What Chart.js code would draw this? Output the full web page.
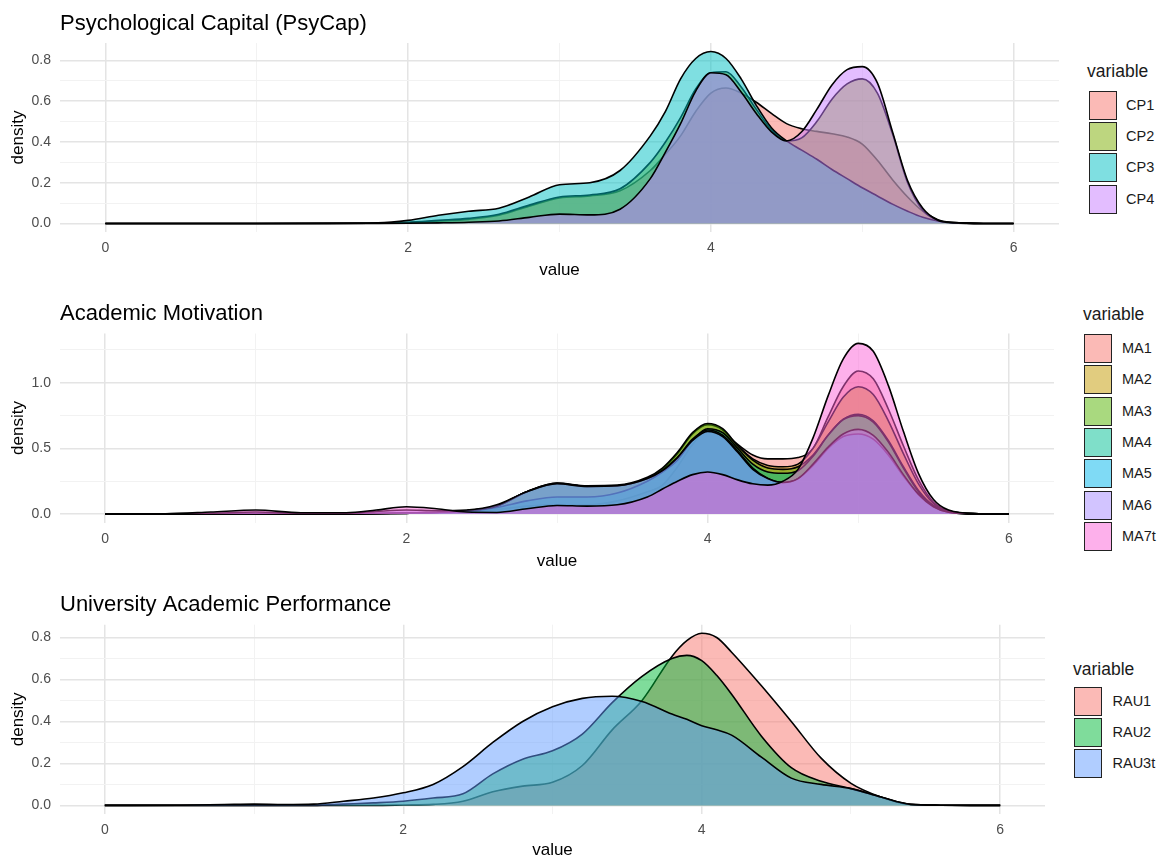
<!DOCTYPE html>
<html lang="en">
<head>
<meta charset="UTF-8">
<title>Density plots</title>
<script src="https://cdn.jsdelivr.net/npm/chart.js"></script>
<style>
  body { margin: 0; background: #fff; font-family: "Liberation Sans", Arial, sans-serif; }
  #wrap { position: relative; width: 1162px; height: 861px; overflow: hidden; }
  #wrap canvas { position: absolute; left: 0; }
  .legend { position: absolute; color: #1a1a1a; }
  .legend .ttl { position: absolute; font-size: 17.5px; line-height: 20px; white-space: nowrap; }
  .legend .key { position: absolute; left: 0; width: 28px; height: 29px; box-sizing: border-box; border: 1.5px solid #222; }
  .legend .lab { position: absolute; font-size: 14.5px; line-height: 29px; white-space: nowrap; }
</style>
</head>
<body>
<div id="wrap">
  <canvas id="cp" width="1059" height="285" style="top:0px"></canvas>
  <canvas id="ma" width="1054" height="285" style="top:290px"></canvas>
  <canvas id="rau" width="1045" height="281" style="top:580px"></canvas>
</div>
<script>
// Psychological Capital (PsyCap)
const cpNames = ['CP1', 'CP2', 'CP3', 'CP4'];
const cpColors = ['#F8766D', '#7CAE00', '#00BFC4', '#C77CFF'];
const cpX = [0, 1, 1.8, 2.0, 2.2, 2.4, 2.6, 2.8, 3.0, 3.2, 3.4, 3.6, 3.7, 3.8, 3.9, 4.0, 4.1, 4.2, 4.3, 4.4, 4.5, 4.6, 4.7, 4.8, 4.9, 5.0, 5.1, 5.2, 5.3, 5.4, 5.5, 5.6, 5.8, 6.0];
const cp1 = [0, 0, 0.001, 0.005, 0.012, 0.02, 0.04, 0.085, 0.125, 0.135, 0.16, 0.26, 0.34, 0.43, 0.55, 0.64, 0.665, 0.64, 0.595, 0.54, 0.49, 0.465, 0.452, 0.44, 0.425, 0.39, 0.31, 0.215, 0.13, 0.06, 0.018, 0.004, 0, 0];
const cp2 = [0, 0, 0.001, 0.005, 0.015, 0.025, 0.045, 0.09, 0.13, 0.14, 0.17, 0.30, 0.40, 0.52, 0.66, 0.74, 0.745, 0.67, 0.56, 0.46, 0.405, 0.42, 0.50, 0.61, 0.685, 0.71, 0.64, 0.44, 0.20, 0.065, 0.015, 0.003, 0, 0];
const cp3 = [0, 0, 0.003, 0.015, 0.04, 0.06, 0.075, 0.13, 0.19, 0.20, 0.26, 0.43, 0.55, 0.71, 0.81, 0.844, 0.81, 0.71, 0.58, 0.47, 0.405, 0.36, 0.315, 0.265, 0.22, 0.175, 0.135, 0.095, 0.06, 0.03, 0.012, 0.004, 0, 0];
const cp4 = [0, 0, 0, 0.001, 0.003, 0.006, 0.012, 0.03, 0.046, 0.042, 0.07, 0.22, 0.35, 0.49, 0.65, 0.74, 0.73, 0.645, 0.54, 0.45, 0.405, 0.45, 0.56, 0.68, 0.755, 0.77, 0.69, 0.45, 0.21, 0.075, 0.016, 0.004, 0, 0];

// Academic Motivation
const maNames = ['MA1', 'MA2', 'MA3', 'MA4', 'MA5', 'MA6', 'MA7t'];
const maColors = ['#F8766D', '#C49A00', '#53B400', '#00C094', '#00B6EB', '#A58AFF', '#FB61D7'];
const maX = [0, 0.4, 0.7, 1.0, 1.3, 1.6, 1.8, 2.0, 2.2, 2.4, 2.6, 2.8, 3.0, 3.2, 3.4, 3.6, 3.7, 3.8, 3.9, 4.0, 4.1, 4.2, 4.3, 4.4, 4.5, 4.6, 4.7, 4.8, 4.9, 5.0, 5.1, 5.2, 5.3, 5.4, 5.5, 5.6, 5.8, 6.0];
const ma1 = [0, 0, 0, 0, 0, 0, 0.002, 0.005, 0.01, 0.02, 0.035, 0.06, 0.07, 0.07, 0.10, 0.17, 0.22, 0.36, 0.53, 0.64, 0.62, 0.53, 0.45, 0.42, 0.42, 0.43, 0.50, 0.74, 0.97, 1.09, 1.03, 0.80, 0.52, 0.26, 0.09, 0.025, 0.002, 0];
const ma2 = [0, 0, 0, 0, 0, 0, 0.004, 0.008, 0.012, 0.025, 0.06, 0.17, 0.23, 0.21, 0.215, 0.27, 0.34, 0.46, 0.61, 0.68, 0.64, 0.52, 0.42, 0.37, 0.36, 0.38, 0.50, 0.70, 0.89, 0.97, 0.91, 0.71, 0.46, 0.23, 0.08, 0.02, 0.002, 0];
const ma3 = [0, 0, 0, 0, 0, 0, 0.004, 0.008, 0.012, 0.025, 0.06, 0.17, 0.235, 0.215, 0.22, 0.28, 0.35, 0.47, 0.62, 0.69, 0.65, 0.52, 0.41, 0.35, 0.34, 0.36, 0.45, 0.60, 0.72, 0.76, 0.71, 0.56, 0.36, 0.18, 0.065, 0.017, 0.001, 0];
const ma4 = [0, 0, 0, 0, 0, 0, 0.002, 0.005, 0.01, 0.02, 0.05, 0.10, 0.13, 0.13, 0.16, 0.25, 0.32, 0.41, 0.56, 0.65, 0.62, 0.50, 0.38, 0.32, 0.31, 0.33, 0.44, 0.60, 0.72, 0.75, 0.70, 0.55, 0.35, 0.17, 0.06, 0.015, 0.001, 0];
const ma5 = [0, 0, 0, 0, 0, 0, 0.004, 0.008, 0.012, 0.025, 0.06, 0.17, 0.235, 0.21, 0.215, 0.27, 0.33, 0.43, 0.57, 0.64, 0.60, 0.48, 0.35, 0.27, 0.24, 0.27, 0.37, 0.50, 0.59, 0.61, 0.57, 0.45, 0.29, 0.15, 0.055, 0.014, 0.001, 0];
const ma6 = [0, 0.001, 0.006, 0.015, 0.004, 0.006, 0.02, 0.03, 0.025, 0.03, 0.07, 0.17, 0.23, 0.21, 0.215, 0.27, 0.33, 0.43, 0.56, 0.63, 0.59, 0.47, 0.34, 0.27, 0.24, 0.27, 0.38, 0.51, 0.61, 0.645, 0.60, 0.47, 0.30, 0.15, 0.055, 0.014, 0.001, 0];
const ma7t = [0, 0.002, 0.015, 0.03, 0.01, 0.01, 0.03, 0.055, 0.04, 0.015, 0.012, 0.04, 0.065, 0.06, 0.07, 0.13, 0.19, 0.25, 0.30, 0.32, 0.30, 0.26, 0.23, 0.22, 0.25, 0.34, 0.58, 0.90, 1.18, 1.30, 1.24, 0.98, 0.63, 0.31, 0.11, 0.03, 0.002, 0];

// University Academic Performance
const rauNames = ['RAU1', 'RAU2', 'RAU3t'];
const rauColors = ['#F8766D', '#00BA38', '#619CFF'];
const rauX = [0, 0.5, 0.8, 1.0, 1.2, 1.4, 1.6, 1.8, 2.0, 2.2, 2.4, 2.6, 2.8, 3.0, 3.2, 3.4, 3.6, 3.8, 3.9, 4.0, 4.1, 4.2, 4.4, 4.6, 4.8, 5.0, 5.2, 5.4, 5.6, 5.8, 6.0];
const rau1 = [0, 0, 0, 0, 0, 0, 0, 0, 0.002, 0.005, 0.02, 0.065, 0.092, 0.11, 0.19, 0.36, 0.50, 0.71, 0.785, 0.82, 0.80, 0.73, 0.57, 0.40, 0.225, 0.105, 0.04, 0.004, 0.001, 0, 0];
const rau2 = [0, 0, 0, 0, 0, 0, 0.006, 0.012, 0.02, 0.035, 0.055, 0.15, 0.22, 0.26, 0.34, 0.49, 0.615, 0.70, 0.715, 0.69, 0.62, 0.53, 0.33, 0.18, 0.115, 0.08, 0.04, 0.005, 0.001, 0, 0];
const rau3t = [0, 0.001, 0.004, 0.006, 0.004, 0.006, 0.02, 0.035, 0.06, 0.10, 0.185, 0.30, 0.40, 0.47, 0.51, 0.52, 0.495, 0.435, 0.41, 0.38, 0.36, 0.335, 0.23, 0.13, 0.10, 0.08, 0.04, 0.005, 0.001, 0, 0];

Chart.defaults.font.family = '"Liberation Sans", Arial, sans-serif';
Chart.defaults.animation = false;

function withAlpha(hex, a) {
  const n = parseInt(hex.slice(1), 16);
  return `rgba(${n >> 16}, ${(n >> 8) & 255}, ${n & 255}, ${a})`;
}

function gridStyle(isMajor) {
  return {
    drawTicks: false,
    color: c => isMajor(c.tick.value) ? '#e4e4e4' : '#f2f2f2',
    lineWidth: c => isMajor(c.tick.value) ? 1.5 : 1
  };
}

function makePanel(id, p) {
  const chart = new Chart(document.getElementById(id), {
    type: 'line',
    data: {
      datasets: p.names.map((name, i) => ({
        label: name,
        data: p.x.map((x, k) => ({ x: x, y: p.series[i][k] })),
        backgroundColor: withAlpha(p.colors[i], 0.5),
        borderColor: '#000',
        borderWidth: 1.6,
        fill: 'origin',
        pointRadius: 0,
        cubicInterpolationMode: 'monotone',
        order: p.names.length - i   // later groups drawn on top
      }))
    },
    options: {
      responsive: false,
      devicePixelRatio: 1,
      layout: { padding: 0 },
      plugins: {
        legend: { display: false },
        tooltip: { enabled: false },
        title: {
          display: true, text: p.title, align: 'start', fullSize: false,
          color: '#000', font: { size: 22, weight: 'normal' },
          padding: { top: p.titleTop, bottom: p.titleBottom }
        }
      },
      scales: {
        x: {
          type: 'linear', min: -0.3, max: 6.3,
          afterFit: s => { s.height = p.axisH; },
          border: { display: false },
          grid: gridStyle(v => v % 2 === 0),
          ticks: {
            stepSize: 1, includeBounds: false, autoSkip: false, maxRotation: 0,
            padding: 8, color: '#4d4d4d', font: { size: 14 },
            callback: v => (v % 2 === 0 ? String(v) : '')
          },
          title: { display: true, text: 'value', color: '#000', font: { size: 17 }, padding: { top: 0, bottom: p.valuePad } }
        },
        y: {
          min: p.yMin, max: p.yMax,
          afterFit: s => { s.width = 60; },
          border: { display: false },
          grid: gridStyle(v => Math.round(v / p.yStep) % 2 === 0),
          ticks: {
            stepSize: p.yStep, includeBounds: false, autoSkip: false,
            padding: 9, color: '#4d4d4d', font: { size: 14 },
            callback: v => (Math.round(v / p.yStep) % 2 === 0 ? v.toFixed(1) : '')
          },
          title: { display: true, text: 'density', color: '#000', font: { size: 17 }, padding: { top: 8, bottom: 0 } }
        }
      }
    }
  });

  // ggplot-style legend built from the chart's datasets
  const lg = document.createElement('div');
  lg.className = 'legend';
  lg.style.left = p.leg.left + 'px';
  lg.style.top = p.leg.top + 'px';
  const ttl = document.createElement('div');
  ttl.className = 'ttl';
  ttl.textContent = 'variable';
  ttl.style.left = p.leg.titleDx + 'px';
  ttl.style.top = p.leg.titleDy + 'px';
  lg.appendChild(ttl);
  chart.data.datasets.forEach((ds, i) => {
    const key = document.createElement('div');
    key.className = 'key';
    key.style.top = (i * p.leg.pitch) + 'px';
    key.style.background = ds.backgroundColor;
    lg.appendChild(key);
    const lab = document.createElement('div');
    lab.className = 'lab';
    lab.textContent = ds.label;
    lab.style.left = p.leg.labelDx + 'px';
    lab.style.top = (i * p.leg.pitch) + 'px';
    lg.appendChild(lab);
  });
  document.getElementById('wrap').appendChild(lg);
  return chart;
}

makePanel('cp', {
  title: 'Psychological Capital (PsyCap)',
  names: cpNames, colors: cpColors, x: cpX, series: [cp1, cp2, cp3, cp4],
  yMin: -0.042, yMax: 0.886, yStep: 0.1,
  titleTop: 10.3, titleBottom: 6.3, axisH: 53, valuePad: 4.3,
  leg: { left: 1088.5, top: 90.5, pitch: 31.4, titleDx: -1.5, titleDy: -29.5, labelDx: 37.5 }
});

makePanel('ma', {
  title: 'Academic Motivation',
  names: maNames, colors: maColors, x: maX, series: [ma1, ma2, ma3, ma4, ma5, ma6, ma7t],
  yMin: -0.0655, yMax: 1.3755, yStep: 0.25,
  titleTop: 10.4, titleBottom: 6.7, axisH: 52.4, valuePad: 3.3,
  leg: { left: 1083.5, top: 334, pitch: 31.3, titleDx: -0.5, titleDy: -30, labelDx: 38.5 }
});

makePanel('rau', {
  title: 'University Academic Performance',
  names: rauNames, colors: rauColors, x: rauX, series: [rau1, rau2, rau3t],
  yMin: -0.041, yMax: 0.861, yStep: 0.1,
  titleTop: 11.9, titleBottom: 6.4, axisH: 47, valuePad: 0,
  leg: { left: 1073.5, top: 686.5, pitch: 31.3, titleDx: -0.5, titleDy: -28, labelDx: 39 }
});
</script>
</body>
</html>
